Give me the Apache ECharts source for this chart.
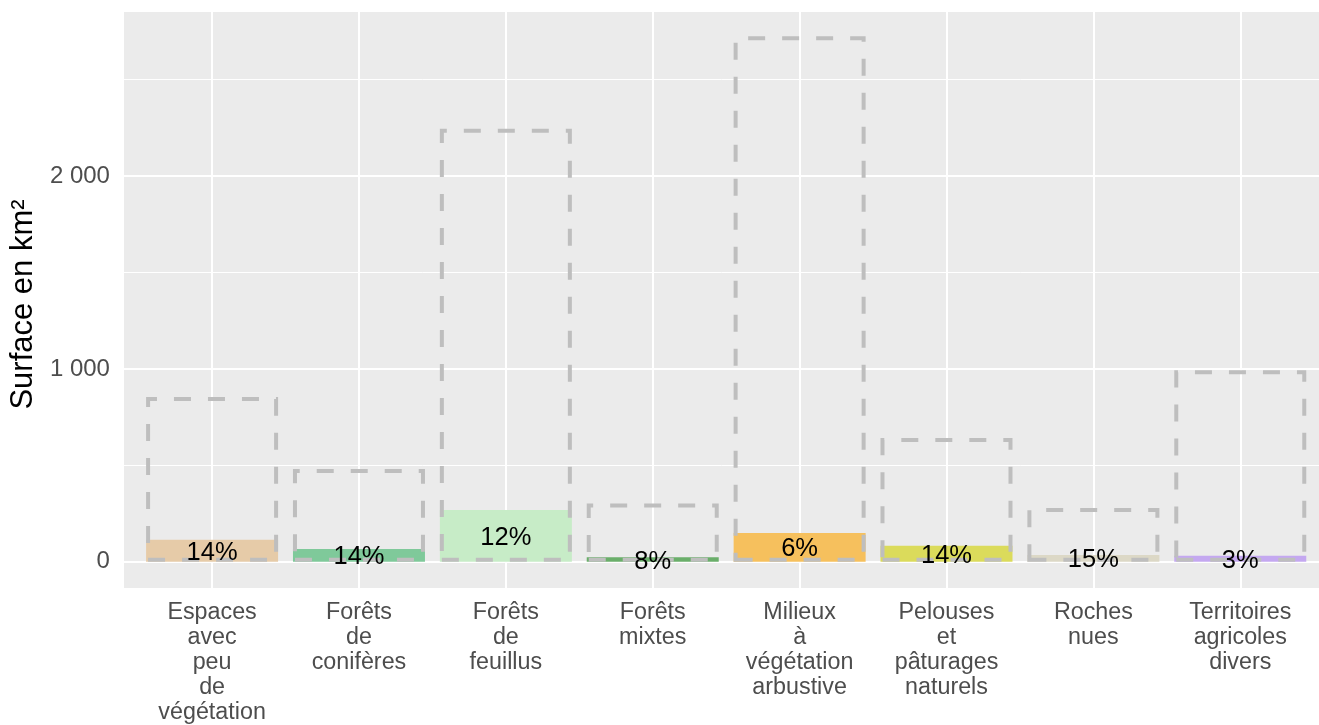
<!DOCTYPE html>
<html>
<head>
<meta charset="utf-8">
<script src="https://cdn.jsdelivr.net/npm/echarts@6/dist/echarts.min.js"></script>
<style>
html,body{margin:0;padding:0;background:#fff;}
#chart{width:1319px;height:725px;}
</style>
</head>
<body>
<div id="chart"></div>
<script>
const categories = ['Espaces avec peu de végétation', 'Forêts de conifères', 'Forêts de feuillus', 'Forêts mixtes', 'Milieux à végétation arbustive', 'Pelouses et pâturages naturels', 'Roches nues', 'Territoires agricoles divers'];
const partValues = [114, 66, 269, 24, 149, 83, 35, 31];
const totalValues = [855, 481, 2245, 303, 2725, 642, 279, 994];
const pctLabels = ['14%', '14%', '12%', '8%', '6%', '14%', '15%', '3%'];
const fillColors = ['#E6CBA8', '#7FC99A', '#C7ECC7', '#6AAE6A', '#F6C05D', '#DBDB5B', '#DCD8C6', '#C4A8F0'];

const FONT = 'Liberation Sans, Arial, sans-serif';
const fmt = v => String(v).replace(/\B(?=(\d{3})+(?!\d))/g, ' ');

const chart = echarts.init(document.getElementById('chart'), null, {renderer: 'canvas'});
const yMin = -135.75, yMax = 2851;
// panel spans 123..1319 px; one category unit = 147 px, first centre 0.6 unit from the left edge
const xMin = 0.4, xMax = 0.4 + 1196 / 147;
chart.setOption({
  animation: false,
  backgroundColor: '#FFFFFF',
  grid: {left: 123, top: 12, right: 0, bottom: 136.5, show: true, backgroundColor: '#EBEBEB', borderWidth: 0, containLabel: false},
  xAxis: {
    type: 'value', min: xMin, max: xMax, minInterval: 1, maxInterval: 1,
    axisLine: {show: false}, axisTick: {show: false},
    splitLine: {show: true, showMinLine: false, showMaxLine: false, lineStyle: {color: '#FFFFFF', width: 2}},
    axisLabel: {
      showMinLabel: false, showMaxLabel: false, margin: 12,
      color: '#4D4D4D', fontSize: 23.3, fontFamily: FONT, lineHeight: 25, align: 'center', verticalAlign: 'top',
      formatter: v => (Math.abs(v - Math.round(v)) < 1e-6 && v >= 1 && v <= categories.length) ? categories[Math.round(v) - 1].split(' ').join('\n') : ''
    }
  },
  yAxis: [{
    type: 'value', min: yMin, max: yMax, minInterval: 1000, maxInterval: 1000,
    name: 'Surface en km²', nameLocation: 'middle', nameGap: 76,
    nameTextStyle: {fontSize: 31, color: '#000000', fontFamily: FONT, padding: [0, 9, 0, 0]},
    axisLine: {show: false}, axisTick: {show: false},
    splitLine: {show: true, showMinLine: false, showMaxLine: false, lineStyle: {color: '#FFFFFF', width: 2}},
    axisLabel: {showMinLabel: false, showMaxLabel: false, margin: 14, color: '#4D4D4D', fontSize: 24, fontFamily: FONT, formatter: v => fmt(v)}
  }, {
    type: 'value', min: yMin, max: yMax, minInterval: 500, maxInterval: 500,
    axisLine: {show: false}, axisTick: {show: false}, axisLabel: {show: false},
    splitLine: {show: true, showMinLine: false, showMaxLine: false, lineStyle: {color: '#FFFFFF', width: 1}}
  }],
  series: [{
    type: 'bar', yAxisIndex: 0, barWidth: 132, barGap: '-100%',
    data: partValues.map((v, i) => ({value: [i + 1, v], itemStyle: {color: fillColors[i]}})),
    label: {show: true, position: 'inside', offset: [0, 2], color: '#000000', fontSize: 25.5, fontFamily: FONT,
      formatter: p => pctLabels[p.dataIndex]},
    z: 2
  }, {
    type: 'bar', yAxisIndex: 0, barWidth: 132, barGap: '-100%',
    data: totalValues.map((v, i) => [i + 1, v]),
    itemStyle: {color: 'rgba(0,0,0,0)', borderColor: '#BEBEBE', borderWidth: 4, borderType: [17, 17]},
    z: 2
  }]
});
</script>
</body>
</html>
